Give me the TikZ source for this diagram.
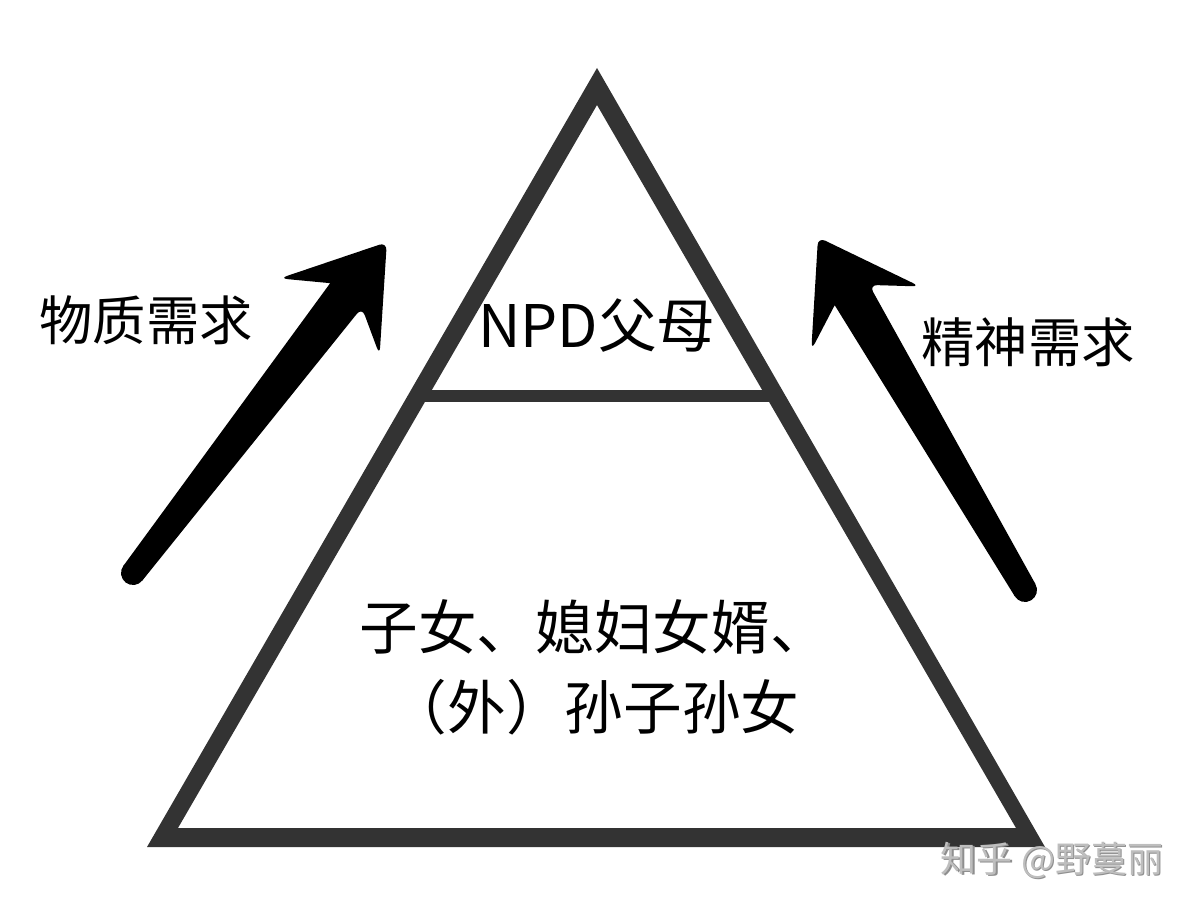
\documentclass[tikz,border=0pt]{standalone}
\usepackage{fontspec}
\newfontfamily\cjk{Noto Sans CJK SC}
\definecolor{tri}{HTML}{333333}
\definecolor{wm}{HTML}{BEBEBE}
\definecolor{wmshadow}{HTML}{8E8E8E}
\begin{document}
\begin{tikzpicture}[x=0.75pt,y=-0.75pt,
  lbl/.style={font=\cjk\fontsize{40pt}{48pt}\selectfont, inner sep=0pt, text=black},
  toplbl/.style={font=\cjk\fontsize{44pt}{50pt}\selectfont, inner sep=0pt, text=black},
  botlbl/.style={font=\cjk\fontsize{44pt}{60pt}\selectfont, inner sep=0pt, align=center, text=black},
  wmlbl/.style={font=\cjk\fontsize{27pt}{30pt}\selectfont, inner sep=0pt},
  bigarrow/.style={fill=black, rounded corners=6pt}]
\useasboundingbox (0,0) rectangle (1195,909);
% pyramid outline
\fill[tri, even odd rule] (597,68) -- (147,847) -- (1045,847) -- cycle
  (597,105) -- (1016,828) -- (178,828) -- cycle;
\fill[tri] (418,390) rectangle (776,402);
% tails of the arrows
\coordinate (ltail) at (133,573);
\coordinate (rtail) at (1025,590);
% left arrow
\begin{scope}[shift={(ltail)}, rotate=52.5]
  \fill[bigarrow] (0,-12) [sharp corners] -- (350,-20) [rounded corners=6pt] -- (323,-63) -- (417,0) -- (323,63) -- (350,20) [sharp corners] -- (0,12) -- cycle;
  \fill[black] (0,0) circle[radius=9pt];
\end{scope}
% right arrow
\begin{scope}[shift={(rtail)}, rotate=120.4]
  \fill[bigarrow] (0,-12) [sharp corners] -- (342,-20) [rounded corners=6pt] -- (315,-63) -- (409,0) -- (315,63) -- (342,20) [sharp corners] -- (0,12) -- cycle;
  \fill[black] (0,0) circle[radius=9pt];
\end{scope}
% labels
\node[lbl] (mat) at (146,320) {物质需求};
\node[lbl] (spi) at (1028,342) {精神需求};
\node[toplbl] (top) at (597,325) {NPD父母};
\node[botlbl] (bot) at (594,667) {子女、媳妇女婿、\\（外）孙子孙女};
% watermark
\node[wmlbl, text=wmshadow] (wms) at (1053.5,861.5) {知乎 @野蔓丽};
\node[wmlbl, text=wm] (wmk) at (1052,860) {知乎 @野蔓丽};
\end{tikzpicture}
\end{document}
